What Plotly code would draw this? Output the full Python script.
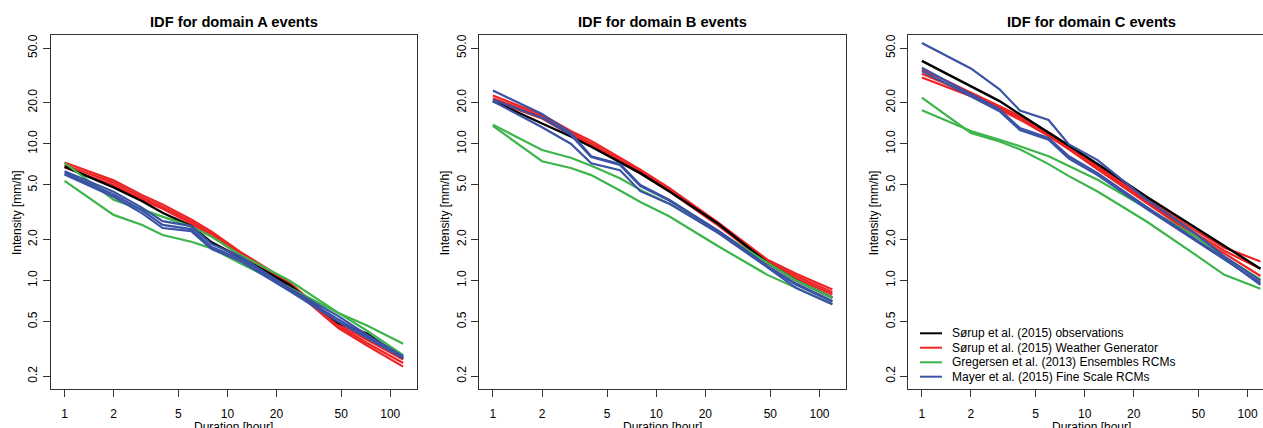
import plotly.graph_objects as go

# ---------------- data ----------------
durations = [1, 2, 3, 4, 6, 8, 12, 24, 48, 72, 120]

x_ticks = [1, 2, 5, 10, 20, 50, 100]
x_ticktext = ["1", "2", "5", "10", "20", "50", "100"]
y_ticks = [0.2, 0.5, 1, 2, 5, 10, 20, 50]
y_ticktext = ["0.2", "0.5", "1.0", "2.0", "5.0", "10.0", "20.0", "50.0"]

panel_titles = ["IDF for domain A events", "IDF for domain B events", "IDF for domain C events"]
legend_labels = [
    "Sørup et al. (2015) observations",
    "Sørup et al. (2015) Weather Generator",
    "Gregersen et al. (2013) Ensembles RCMs",
    "Mayer et al. (2015) Fine Scale RCMs",
]

# Domain A
A_obs = [6.8, 4.8, 3.8, 3.13, 2.5, 1.9, 1.48, 0.93, 0.49, 0.41, 0.27]
A_wg_hi = [7.3, 5.4, 4.2, 3.6, 2.8, 2.28, 1.62, 0.97, 0.48, 0.37, 0.265]
A_wg_mid = [7.0, 5.2, 4.05, 3.45, 2.7, 2.2, 1.57, 0.94, 0.465, 0.35, 0.25]
A_wg_lo = [6.7, 5.0, 3.9, 3.35, 2.6, 2.12, 1.52, 0.91, 0.45, 0.335, 0.235]
A_ens_1 = [7.25, 3.9, 3.3, 2.93, 2.48, 2.09, 1.54, 1.0, 0.58, 0.43, 0.285]
A_ens_2 = [5.35, 3.02, 2.55, 2.15, 1.92, 1.72, 1.34, 0.89, 0.58, 0.47, 0.345]
A_fs_1 = [6.3, 4.45, 3.4, 2.72, 2.5, 1.85, 1.5, 0.88, 0.55, 0.40, 0.28]
A_fs_2 = [6.1, 4.25, 3.25, 2.55, 2.38, 1.76, 1.44, 0.86, 0.52, 0.39, 0.275]
A_fs_3 = [5.95, 4.1, 3.1, 2.42, 2.3, 1.70, 1.39, 0.84, 0.50, 0.38, 0.27]

# Domain B
B_obs = [20.5, 14.2, 11.3, 9.5, 7.3, 6.1, 4.5, 2.6, 1.35, 1.0, 0.75]
B_wg_hi = [22.5, 16.3, 12.4, 10.5, 7.9, 6.45, 4.75, 2.65, 1.42, 1.12, 0.86]
B_wg_mid = [21.5, 15.8, 12.0, 10.1, 7.6, 6.25, 4.6, 2.58, 1.38, 1.08, 0.82]
B_wg_lo = [20.6, 15.3, 11.6, 9.8, 7.35, 6.05, 4.5, 2.52, 1.34, 1.04, 0.79]
B_ens_1 = [13.8, 9.0, 7.9, 6.9, 5.6, 4.6, 3.65, 2.3, 1.35, 1.0, 0.75]
B_ens_2 = [13.5, 7.45, 6.65, 5.9, 4.55, 3.75, 2.95, 1.78, 1.1, 0.88, 0.67]
B_fs_1 = [24.5, 16.5, 12.0, 8.1, 7.1, 5.0, 3.9, 2.32, 1.28, 0.95, 0.71]
B_fs_2 = [20.5, 13.2, 10.0, 7.2, 6.4, 4.5, 3.65, 2.22, 1.25, 0.88, 0.67]
B_fs_3 = [21.0, 15.5, 11.6, 8.0, 7.0, 4.9, 3.85, 2.3, 1.27, 0.93, 0.70]

# Domain C
C_obs = [40.3, 26.2, 20.5, 16.4, 12.0, 9.6, 7.1, 4.1, 2.43, 1.77, 1.22]
C_wg_hi = [35.0, 23.8, 18.8, 15.9, 12.1, 9.7, 7.0, 3.95, 2.32, 1.74, 1.38]
C_wg_mid = [32.5, 23.0, 18.3, 15.4, 11.7, 9.35, 6.75, 3.8, 2.2, 1.65, 1.22]
C_wg_lo = [30.5, 22.3, 17.8, 15.0, 11.4, 9.1, 6.5, 3.7, 2.1, 1.58, 1.08]
C_ens_1 = [21.7, 12.0, 10.4, 9.1, 7.1, 5.8, 4.48, 2.7, 1.54, 1.1, 0.87]
C_ens_2 = [17.6, 12.4, 10.7, 9.6, 8.1, 6.9, 5.46, 3.38, 2.1, 1.49, 1.02]
C_fs_1 = [54.5, 35.5, 25.0, 17.5, 14.9, 9.9, 7.6, 3.9, 2.2, 1.5, 1.0]
C_fs_2 = [36.0, 23.0, 17.8, 13.0, 11.0, 8.1, 6.1, 3.45, 2.0, 1.45, 0.93]
C_fs_3 = [34.0, 22.3, 17.3, 12.6, 10.7, 7.8, 5.9, 3.35, 1.95, 1.42, 0.96]

# ---------------- styling ----------------
W, H = 1263, 428
FONT = "Liberation Sans, Arial, Helvetica, sans-serif"
COL_OBS = "#000000"
COL_WG = "#EE2424"
COL_ENS = "#3DB54A"
COL_FS = "#3A53A4"
FRAME = "#333333"
colors = [COL_OBS, COL_WG, COL_ENS, COL_FS]

def px_x(p):
    return p / W

def px_y(p):
    return 1 - p / H

frame_top, frame_bot = 35.0, 389.3
panels_px = [(51.0, 416.7), (479.3, 846.0), (908.3, 1263.0)]
x_range_full = [-0.0832, 2.1624]
px_per_dec = (416.7 - 51.0) / (x_range_full[1] - x_range_full[0])
y_range = [-0.7949, 1.7949]

panel_data = [
    (A_obs, [A_wg_hi, A_wg_mid, A_wg_lo], [A_ens_1, A_ens_2], [A_fs_1, A_fs_2, A_fs_3]),
    (B_obs, [B_wg_hi, B_wg_mid, B_wg_lo], [B_ens_1, B_ens_2], [B_fs_1, B_fs_2, B_fs_3]),
    (C_obs, [C_wg_hi, C_wg_mid, C_wg_lo], [C_ens_1, C_ens_2], [C_fs_1, C_fs_2, C_fs_3]),
]

fig = go.Figure()
annotations = []
shapes = []

for i, (obs, wg, ens, fs) in enumerate(panel_data):
    xa = "x" if i == 0 else f"x{i+1}"
    ya = "y" if i == 0 else f"y{i+1}"
    for s in wg:
        fig.add_trace(go.Scatter(x=durations, y=s, mode="lines", xaxis=xa, yaxis=ya,
                                 line=dict(color=COL_WG, width=2.2), showlegend=False, hoverinfo="skip"))
    fig.add_trace(go.Scatter(x=durations, y=obs, mode="lines", xaxis=xa, yaxis=ya,
                             line=dict(color=COL_OBS, width=2.4), showlegend=False, hoverinfo="skip"))
    for s in ens:
        fig.add_trace(go.Scatter(x=durations, y=s, mode="lines", xaxis=xa, yaxis=ya,
                                 line=dict(color=COL_ENS, width=2.2), showlegend=False, hoverinfo="skip"))
    for s in fs:
        fig.add_trace(go.Scatter(x=durations, y=s, mode="lines", xaxis=xa, yaxis=ya,
                                 line=dict(color=COL_FS, width=2.2), showlegend=False, hoverinfo="skip"))

    left, right = panels_px[i]
    if i == 2:
        xr = [x_range_full[0], x_range_full[0] + (right - left) / px_per_dec]
        full_right = left + (x_range_full[1] - x_range_full[0]) * px_per_dec
    else:
        xr = x_range_full
        full_right = right
    center = (left + full_right) / 2

    axis_common = dict(showgrid=False, zeroline=False, showline=True, linecolor=FRAME, linewidth=1,
                       ticks="outside", ticklen=7, tickwidth=1, tickcolor=FRAME,
                       tickfont=dict(family=FONT, size=12, color="#000000"))
    fig.update_layout(**{
        ("xaxis" if i == 0 else f"xaxis{i+1}"): dict(
            domain=[px_x(left), px_x(right)], type="log", range=xr, anchor=ya,
            tickvals=x_ticks, ticktext=x_ticktext, mirror=True, ticklabelstandoff=6,
            **axis_common),
        ("yaxis" if i == 0 else f"yaxis{i+1}"): dict(
            domain=[px_y(frame_bot), px_y(frame_top)], type="log", range=y_range, anchor=xa,
            tickvals=y_ticks, ticktext=y_ticktext, tickangle=-90, mirror=(i != 2),
            ticklabelstandoff=1, **axis_common),
    })

    annotations.append(dict(text=f"<b>{panel_titles[i]}</b>", x=px_x(center), y=px_y(22.3),
                            xref="paper", yref="paper", showarrow=False, xanchor="center", yanchor="middle",
                            font=dict(family=FONT, size=14.7, color="#000000")))
    annotations.append(dict(text="Duration [hour]", x=px_x(center), y=px_y(426.5),
                            xref="paper", yref="paper", showarrow=False, xanchor="center", yanchor="middle",
                            font=dict(family=FONT, size=12, color="#000000")))
    annotations.append(dict(text="Intensity [mm/h]", x=px_x(left - 34.5), y=px_y(212.5), textangle=-90,
                            xref="paper", yref="paper", showarrow=False, xanchor="center", yanchor="middle",
                            font=dict(family=FONT, size=12, color="#000000")))

# manual legend in panel C
leg_rows = [333.3, 347.7, 362.3, 376.7]
for lab, col, ry in zip(legend_labels, colors, leg_rows):
    shapes.append(dict(type="line", xref="paper", yref="paper", x0=px_x(920), x1=px_x(942),
                       y0=px_y(ry), y1=px_y(ry), line=dict(color=col, width=2)))
    annotations.append(dict(text=lab, x=px_x(950), y=px_y(ry), xref="paper", yref="paper",
                            showarrow=False, xanchor="left", yanchor="middle",
                            font=dict(family=FONT, size=12, color="#000000")))

fig.update_layout(width=W, height=H, margin=dict(l=0, r=0, t=0, b=0),
                  paper_bgcolor="white", plot_bgcolor="white", showlegend=False,
                  annotations=annotations, shapes=shapes)

fig.write_html("out.html", config={"displayModeBar": False},
               post_script="document.body.style.margin='0';document.body.style.overflow='hidden';")
